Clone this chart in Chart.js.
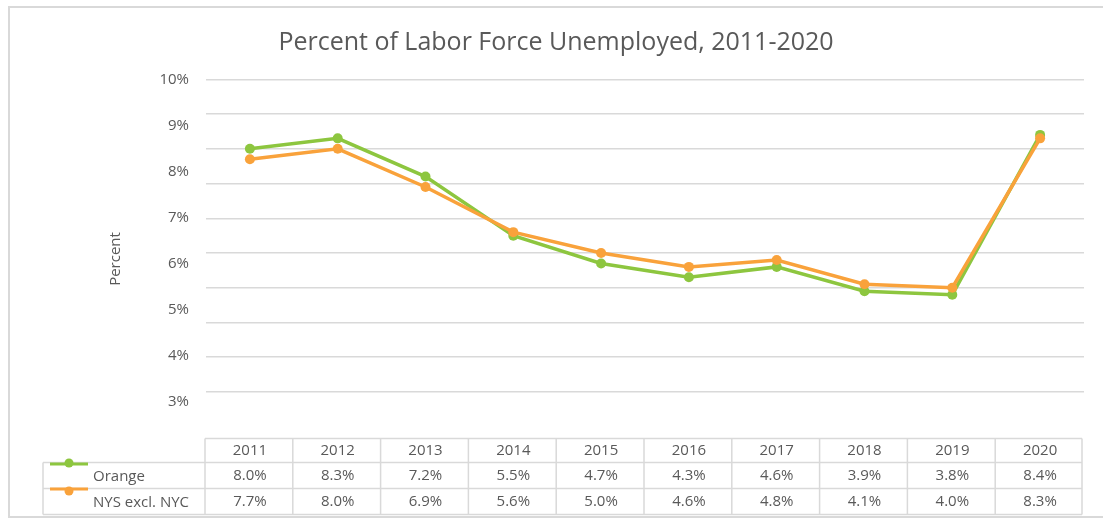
<!DOCTYPE html>
<html>
<head>
<meta charset="utf-8">
<script src="https://cdn.jsdelivr.net/npm/chart.js@4.4.1/dist/chart.umd.min.js"></script>
<style>
html,body{margin:0;padding:0;background:#fff;}
canvas{display:block;}
</style>
</head>
<body>
<canvas id="c" width="1103" height="519"></canvas>
<script>
// ---- data ----
const years = ['2011','2012','2013','2014','2015','2016','2017','2018','2019','2020'];
const orangeCounty = [8.0, 8.3, 7.2, 5.5, 4.7, 4.3, 4.6, 3.9, 3.8, 8.4];
const nysExclNyc   = [7.7, 8.0, 6.9, 5.6, 5.0, 4.6, 4.8, 4.1, 4.0, 8.3];
const seriesNames  = ['Orange', 'NYS excl. NYC'];
const seriesColors = ['#8DC63F', '#F9A23B'];
const axisLabelTicks = [10, 9, 8, 7, 6, 5, 4, 3];
const titleText = 'Percent of Labor Force Unemployed, 2011-2020';
const yTitleText = 'Percent';

const FONT = "'Open Sans', 'DejaVu Sans', sans-serif";
const TEXT = '#595959';
const LINE = '#d9d9d9';

const framePlugin = {
  id: 'frame',
  beforeDraw(chart) {
    const ctx = chart.ctx;
    ctx.save();
    ctx.strokeStyle = LINE;
    ctx.lineWidth = 2;
    ctx.strokeRect(9, 7, 1110, 510);
    ctx.restore();
  },
  afterDraw(chart) {
    const ctx = chart.ctx;
    ctx.save();
    ctx.fillStyle = TEXT;
    ctx.font = '15px ' + FONT;
    ctx.translate(116, 259);
    ctx.rotate(-Math.PI / 2);
    ctx.textAlign = 'center';
    ctx.textBaseline = 'middle';
    ctx.fillText(yTitleText, 0, 0);
    ctx.restore();
  }
};

const tablePlugin = {
  id: 'dataTable',
  afterDraw(chart) {
    const ctx = chart.ctx;
    const a = chart.chartArea;
    const x = chart.scales.x;
    const n = years.length;
    const colW = (a.right - a.left) / n;
    const tLeft = a.left - 1, tRight = a.right - 2;
    const hdrLeft = 43;
    const rows = [438.5, 462.5, 488.5, 514.5];
    ctx.save();
    ctx.strokeStyle = LINE;
    ctx.lineWidth = 1.5;
    ctx.beginPath();
    ctx.moveTo(tLeft, rows[0]); ctx.lineTo(tRight, rows[0]);
    for (let r = 1; r < rows.length; r++) { ctx.moveTo(hdrLeft, rows[r]); ctx.lineTo(tRight, rows[r]); }
    ctx.moveTo(hdrLeft, rows[1]); ctx.lineTo(hdrLeft, rows[3]);
    for (let i = 0; i <= n; i++) {
      const xx = i === n ? tRight : tLeft + i * colW;
      ctx.moveTo(xx, rows[0]); ctx.lineTo(xx, rows[3]);
    }
    ctx.stroke();

    ctx.fillStyle = TEXT;
    ctx.font = '15px ' + FONT;
    ctx.textAlign = 'center';
    ctx.textBaseline = 'middle';
    const data = [orangeCounty, nysExclNyc];
    for (let i = 0; i < n; i++) {
      const cx = x.getPixelForValue(i);
      ctx.fillText(years[i], cx, (rows[0] + rows[1]) / 2);
      for (let s = 0; s < 2; s++) {
        ctx.fillText(data[s][i].toFixed(1) + '%', cx, (rows[s + 1] + rows[s + 2]) / 2);
      }
    }
    ctx.textAlign = 'left';
    const keyY = [464, 489];
    for (let s = 0; s < 2; s++) {
      ctx.strokeStyle = seriesColors[s];
      ctx.lineWidth = 3;
      ctx.beginPath();
      ctx.moveTo(50, keyY[s]); ctx.lineTo(88, keyY[s]);
      ctx.stroke();
      ctx.fillStyle = seriesColors[s];
      ctx.beginPath();
      ctx.arc(69, keyY[s] + (s === 0 ? -1 : 2), 4.5, 0, Math.PI * 2);
      ctx.fill();
      ctx.fillStyle = TEXT;
      ctx.fillText(seriesNames[s], 93, (rows[s + 1] + rows[s + 2]) / 2 + 1);
    }
    ctx.restore();
  }
};

new Chart(document.getElementById('c'), {
  type: 'line',
  data: {
    labels: years,
    datasets: [
      {
        label: seriesNames[0], data: orangeCounty, order: 1,
        borderColor: seriesColors[0], backgroundColor: seriesColors[0],
        borderWidth: 3.5, pointRadius: 5, pointBorderWidth: 0,
        pointBackgroundColor: seriesColors[0], tension: 0, yAxisID: 'y'
      },
      {
        label: seriesNames[1], data: nysExclNyc, order: 0,
        borderColor: seriesColors[1], backgroundColor: seriesColors[1],
        borderWidth: 3.5, pointRadius: 5, pointBorderWidth: 0,
        pointBackgroundColor: seriesColors[1], tension: 0, yAxisID: 'y'
      }
    ]
  },
  options: {
    responsive: false,
    animation: false,
    events: [],
    layout: { padding: { top: 10, left: 28, right: 19, bottom: 92.3 } },
    plugins: {
      legend: { display: false },
      tooltip: { enabled: false },
      title: {
        display: true,
        text: titleText,
        color: TEXT,
        font: { family: FONT, size: 25, weight: 'normal' },
        padding: { top: 18, bottom: 21.3 }
      }
    },
    scales: {
      x: { type: 'category', offset: true, display: false },
      y: {
        position: 'left',
        min: 0, max: 10,
        ticks: { display: false, stepSize: 1 },
        grid: {
          drawTicks: false,
          lineWidth: 1.5,
          color: (c) => (c.tick && c.tick.value === 0) ? 'rgba(0,0,0,0)' : LINE
        },
        border: { display: false },
        afterFit: (s) => { s.width = 0; }
      },
      yl: {
        position: 'left',
        min: 2.46, max: 10,
        grid: { display: false, drawTicks: false },
        border: { display: false },
        afterBuildTicks: (s) => { s.ticks = axisLabelTicks.map(v => ({ value: v })); },
        ticks: {
          autoSkip: false,
          padding: 17,
          color: TEXT,
          font: { family: FONT, size: 15 },
          callback: (v) => v + '%'
        },
        afterFit: (s) => { s.width = 178; }
      }
    }
  },
  plugins: [framePlugin, tablePlugin]
});
</script>
</body>
</html>
